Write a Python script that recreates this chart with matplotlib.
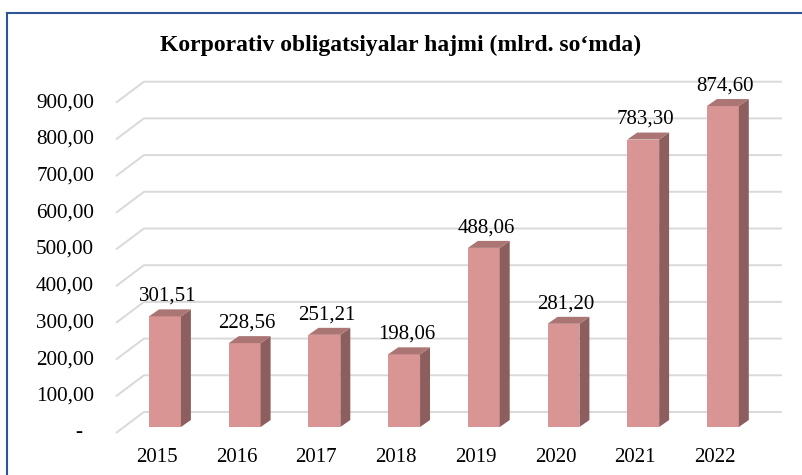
import matplotlib.pyplot as plt
from matplotlib.patches import Polygon
from matplotlib.lines import Line2D

years = ['2015', '2016', '2017', '2018', '2019', '2020', '2021', '2022']
values = [301.51, 228.56, 251.21, 198.06, 488.06, 281.20, 783.30, 874.60]
yticks = [0, 100, 200, 300, 400, 500, 600, 700, 800, 900]
title = 'Korporativ obligatsiyalar hajmi (mlrd. so\u2018mda)'

front_col = '#d99594'
top_col = '#ab7574'
side_col = '#8c5f5e'
grid_col = '#d9d9d9'

plt.rcParams['font.family'] = ['Liberation Serif', 'DejaVu Serif']

fig = plt.figure(figsize=(8.03, 4.75), dpi=100)
ax = fig.add_axes([0, 0, 1, 1])
# 1 category = 79.7 px, 1 unit = 0.367 px; first bar centre at x=165, zero at y=427
ax.set_xlim(-165 / 79.7, (803 - 165) / 79.7)
ax.set_ylim(-(475 - 427) / 0.367, 427 / 0.367)
ax.axis('off')

# depth of the floor / walls and of each bar (data units)
wall_dx, wall_dy = 0.351, 57.2
front_dy = -16.3
left_x = -0.615
right_x = 7.74
bar_w = 0.40
bar_dx, bar_dy = 0.125, 19.0

# perspective gridlines
for v in yticks:
    xs = [left_x, left_x + wall_dx, right_x]
    ys = [v + front_dy, v + front_dy + wall_dy, v + front_dy + wall_dy]
    ax.plot(xs, ys, color=grid_col, lw=1.4, zorder=1, solid_capstyle='butt')
    lab = '-' if v == 0 else f'{v:.2f}'.replace('.', ',')
    lx = -1.04 if v == 0 else -0.89
    ax.text(lx, v + front_dy, lab, ha='right', va='center', fontsize=15.2)

# 3D bars
for i, v in enumerate(values):
    x0, x1 = i - bar_w / 2, i + bar_w / 2
    front = Polygon([(x0, 0), (x1, 0), (x1, v), (x0, v)], closed=True,
                    facecolor=front_col, edgecolor='none', zorder=3)
    side = Polygon([(x1, 0), (x1 + bar_dx, bar_dy), (x1 + bar_dx, v + bar_dy), (x1, v)],
                   closed=True, facecolor=side_col, edgecolor='none', zorder=3)
    top = Polygon([(x0, v), (x1, v), (x1 + bar_dx, v + bar_dy), (x0 + bar_dx, v + bar_dy)],
                  closed=True, facecolor=top_col, edgecolor='none', zorder=3)
    for p in (front, side, top):
        ax.add_patch(p)
    ax.text(i + 0.03, v + 54.5, f'{v:.2f}'.replace('.', ','), ha='center', va='center',
            fontsize=15, zorder=4)
    ax.text(i - 0.1, -82.5, years[i], ha='center', va='center', fontsize=15)

fig.text(0.499, 1 - 45 / 475, title, ha='center', va='center', fontsize=17,
         fontweight='bold')

# frame of the chart (left and top edges visible)
fig.add_artist(Line2D([7 / 803, 7 / 803], [0, 1 - 13 / 475], color='#2f5597', lw=1.5))
fig.add_artist(Line2D([7 / 803, 1], [1 - 13 / 475, 1 - 13 / 475], color='#2f5597', lw=1.5))

fig.savefig('out.png', dpi=100, facecolor='white')
